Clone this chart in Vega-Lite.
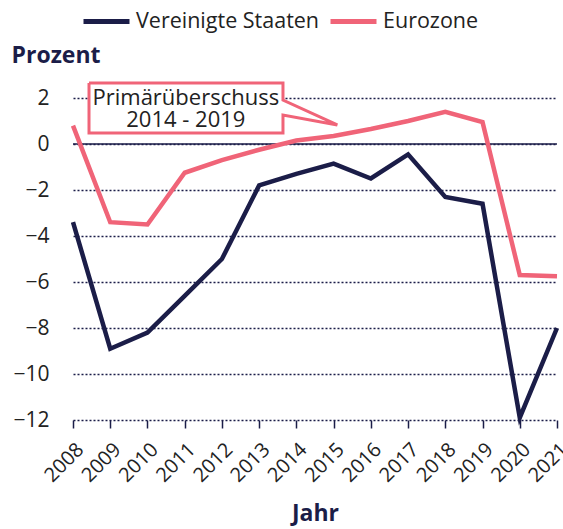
{
  "$schema": "https://vega.github.io/schema/vega-lite/v6.json",
  "width": 484,
  "height": 322,
  "autosize": {"type": "none"},
  "padding": {"left": 73, "top": 98, "right": 6, "bottom": 109},
  "config": {
    "font": "Open Sans",
    "view": {"stroke": null}
  },
  "datasets": {
    "series": [
      {"Jahr": 2008, "Land": "Vereinigte Staaten", "Wert": -3.4},
      {"Jahr": 2009, "Land": "Vereinigte Staaten", "Wert": -8.9},
      {"Jahr": 2010, "Land": "Vereinigte Staaten", "Wert": -8.2},
      {"Jahr": 2011, "Land": "Vereinigte Staaten", "Wert": -6.6},
      {"Jahr": 2012, "Land": "Vereinigte Staaten", "Wert": -5.0},
      {"Jahr": 2013, "Land": "Vereinigte Staaten", "Wert": -1.8},
      {"Jahr": 2014, "Land": "Vereinigte Staaten", "Wert": -1.3},
      {"Jahr": 2015, "Land": "Vereinigte Staaten", "Wert": -0.85},
      {"Jahr": 2016, "Land": "Vereinigte Staaten", "Wert": -1.5},
      {"Jahr": 2017, "Land": "Vereinigte Staaten", "Wert": -0.45},
      {"Jahr": 2018, "Land": "Vereinigte Staaten", "Wert": -2.3},
      {"Jahr": 2019, "Land": "Vereinigte Staaten", "Wert": -2.6},
      {"Jahr": 2020, "Land": "Vereinigte Staaten", "Wert": -11.9},
      {"Jahr": 2021, "Land": "Vereinigte Staaten", "Wert": -8.0},
      {"Jahr": 2008, "Land": "Eurozone", "Wert": 0.8},
      {"Jahr": 2009, "Land": "Eurozone", "Wert": -3.4},
      {"Jahr": 2010, "Land": "Eurozone", "Wert": -3.5},
      {"Jahr": 2011, "Land": "Eurozone", "Wert": -1.25},
      {"Jahr": 2012, "Land": "Eurozone", "Wert": -0.7},
      {"Jahr": 2013, "Land": "Eurozone", "Wert": -0.25},
      {"Jahr": 2014, "Land": "Eurozone", "Wert": 0.15},
      {"Jahr": 2015, "Land": "Eurozone", "Wert": 0.35},
      {"Jahr": 2016, "Land": "Eurozone", "Wert": 0.65},
      {"Jahr": 2017, "Land": "Eurozone", "Wert": 1.0},
      {"Jahr": 2018, "Land": "Eurozone", "Wert": 1.4},
      {"Jahr": 2019, "Land": "Eurozone", "Wert": 0.95},
      {"Jahr": 2020, "Land": "Eurozone", "Wert": -5.7},
      {"Jahr": 2021, "Land": "Eurozone", "Wert": -5.75}
    ],
    "bubble": [
      {"i": 0, "Jahr": 2008.43, "Wert": 2.65},
      {"i": 1, "Jahr": 2013.64, "Wert": 2.65},
      {"i": 2, "Jahr": 2013.64, "Wert": 1.91},
      {"i": 3, "Jahr": 2015.1, "Wert": 0.83},
      {"i": 4, "Jahr": 2013.64, "Wert": 1.26},
      {"i": 5, "Jahr": 2013.64, "Wert": 0.48},
      {"i": 6, "Jahr": 2008.43, "Wert": 0.48},
      {"i": 7, "Jahr": 2008.43, "Wert": 2.65}
    ],
    "box": [
      {"Jahr": 2008.43, "Jahr2": 2013.64, "Wert": 2.65, "Wert2": 0.48}
    ],
    "label": [
      {"Jahr": 2011.03, "Wert": 2.0, "label": "Primärüberschuss\n2014 - 2019"}
    ],
    "zero": [{"Jahr": 2008, "Jahr2": 2021, "Wert": 0}]
  },
  "encoding": {
    "x": {
      "field": "Jahr", "type": "quantitative",
      "scale": {"domain": [2008, 2021], "nice": false, "zero": false},
      "axis": {
        "title": "Jahr",
        "titleFontSize": 23, "titleFontWeight": "bold", "titleColor": "#1b1d48",
        "titleBaseline": "alphabetic", "titleY": 100,
        "values": [2008, 2009, 2010, 2011, 2012, 2013, 2014, 2015, 2016, 2017, 2018, 2019, 2020, 2021],
        "format": "d",
        "labelAngle": -45, "labelAlign": "right", "labelBaseline": "top",
        "labelFontSize": 20, "labelColor": "#222222", "labelPadding": 11,
        "labelOverlap": false, "labelFlush": false,
        "domain": false, "grid": false,
        "ticks": true, "tickColor": "#1b1d48", "tickSize": 8, "tickWidth": 1.5
      }
    },
    "y": {
      "field": "Wert", "type": "quantitative",
      "scale": {"domain": [-12, 2], "nice": false},
      "axis": {
        "title": "Prozent",
        "titleAngle": 0, "titleAlign": "left", "titleBaseline": "alphabetic",
        "titleX": -62, "titleY": -36,
        "titleFontSize": 23, "titleFontWeight": "bold", "titleColor": "#1b1d48",
        "values": [-12, -10, -8, -6, -4, -2, 0, 2],
        "labelFontSize": 21, "labelColor": "#222222", "labelPadding": 24,
        "domain": false, "ticks": false,
        "grid": true, "gridColor": "#1b1d48", "gridDash": [2, 2], "gridWidth": 1.5
      }
    }
  },
  "layer": [
    {
      "data": {"name": "zero"},
      "mark": {"type": "rule", "color": "#1b1d48", "strokeWidth": 1.5},
      "encoding": {"x2": {"field": "Jahr2"}}
    },
    {
      "data": {"name": "series"},
      "mark": {"type": "line", "strokeWidth": 4.5, "strokeJoin": "miter", "clip": false},
      "encoding": {
        "color": {
          "field": "Land", "type": "nominal",
          "scale": {"domain": ["Vereinigte Staaten", "Eurozone"], "range": ["#1b1d48", "#f06478"]},
          "legend": {
            "title": null, "orient": "none", "direction": "horizontal",
            "legendX": 8, "legendY": -102,
            "symbolType": "stroke", "symbolSize": 2116, "symbolStrokeWidth": 5,
            "labelFontSize": 21.5, "labelColor": "#222222", "labelOffset": 4,
            "labelLimit": 400, "columnPadding": 0
          }
        }
      }
    },
    {
      "data": {"name": "box"},
      "mark": {"type": "rect", "fill": "white", "clip": false},
      "encoding": {
        "x2": {"field": "Jahr2"},
        "y2": {"field": "Wert2"}
      }
    },
    {
      "data": {"name": "bubble"},
      "mark": {"type": "line", "color": "#f06478", "strokeWidth": 3, "strokeJoin": "miter", "clip": false},
      "encoding": {
        "order": {"field": "i", "type": "quantitative"}
      }
    },
    {
      "data": {"name": "label"},
      "mark": {"type": "text", "fontSize": 22, "color": "#222222", "lineBreak": "\n", "lineHeight": 22, "baseline": "middle", "align": "center", "clip": false},
      "encoding": {
        "text": {"field": "label"}
      }
    }
  ]
}
